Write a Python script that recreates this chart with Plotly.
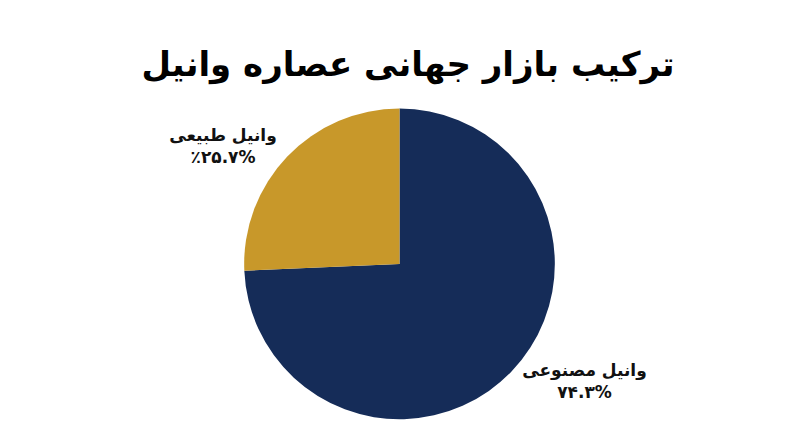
import plotly.graph_objects as go

labels = ["وانیل مصنوعی", "وانیل طبیعی"]
values = [74.3, 25.7]
value_text = ["۷۴.۳%", "٪۲۵.۷%"]
colors = ["#152C58", "#C8982A"]

fig = go.Figure()
fig.add_trace(go.Pie(
    labels=labels,
    values=values,
    text=value_text,
    sort=False,
    direction="clockwise",
    rotation=0,
    marker=dict(colors=colors, line=dict(width=0)),
    textinfo="text+label",
    texttemplate="<b>%{label}</b><br><b>%{text}</b>",
    textposition="outside",
    outsidetextfont=dict(family="DejaVu Sans", size=17, color="#111111"),
    showlegend=False,
    hoverinfo="label+percent",
    domain=dict(x=[0, 1], y=[0.08, 0.775]),
))

fig.update_layout(
    width=800,
    height=447,
    paper_bgcolor="white",
    plot_bgcolor="white",
    margin=dict(l=0, r=0, t=0, b=0),
    title=dict(
        text="<b>ترکیب بازار جهانی عصاره وانیل</b>",
        x=0.5,
        xanchor="center",
        y=0.875,
        yanchor="middle",
        font=dict(family="DejaVu Sans", size=34, color="#000000"),
    ),
)

fig.write_html("out.html")
